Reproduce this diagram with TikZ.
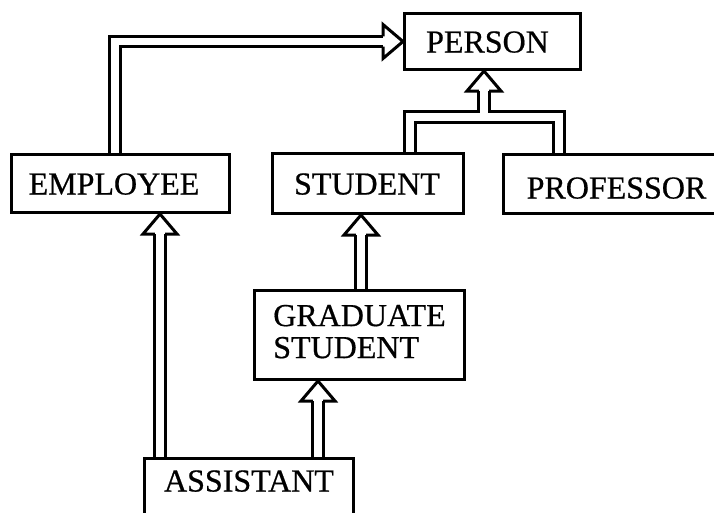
\documentclass[tikz,border=0pt]{standalone}
\usepackage{fontspec}
\setmainfont{Liberation Serif}[FakeBold=0.6]
\usetikzlibrary{calc}
\begin{document}
\begin{tikzpicture}[x=1pt,y=-1pt,
  box/.style={draw, line width=3pt, inner sep=0pt, anchor=north west,
    font=\fontsize{32}{32}\selectfont},
  conn/.style={draw, double, line width=3pt, double distance=7.5pt, line join=miter},
  headline/.style={line width=3pt, line join=miter},
  uphead/.pic={\draw[headline] (-5.2,20) -- (-17,20) -- (0,0) -- (17,20) -- (5.2,20);},
  righthead/.pic={\draw[headline] (-20,-5.2) -- (-20,-17) -- (0,0) -- (-20,17) -- (-20,5.2);}
]
\useasboundingbox (0,0) rectangle (714,512);
\clip (0,0) rectangle (714,512);

\node[box, minimum width=176pt, minimum height=56pt, text height=39pt, text depth=17pt]
  (person) at (403,12) {PERSON\hspace*{10pt}};
\node[box, minimum width=218pt, minimum height=58pt, text height=40pt, text depth=18pt]
  (employee) at (10,153) {EMPLOYEE\hspace*{13pt}};
\node[box, minimum width=191pt, minimum height=60pt, text height=41pt, text depth=19pt]
  (student) at (271,152) {STUDENT\hspace*{2pt}};
\node[box, minimum width=226pt, minimum height=59pt, text height=44pt, text depth=15pt]
  (professor) at (502,153) {PROFESSOR};
\node[box, minimum width=210pt, minimum height=89pt, align=left]
  (grad) at (253,289) {GRADUATE\\STUDENT\rule[-7pt]{0pt}{7pt}};
\node[box, minimum width=209pt, minimum height=73pt, text height=33pt, text depth=40pt]
  (assistant) at (143,457) {ASSISTANT};

\coordinate (xa) at (115,0);
\coordinate (xb) at (160,0);
\coordinate (xc) at (318,0);
\coordinate (xd) at (361,0);
\coordinate (xe) at (410,0);
\coordinate (xf) at (559,0);
\coordinate (j) at (484,117);

% EMPLOYEE -> PERSON
\draw[conn] (xa |- employee.north) |- ($(person.west)+(-20,0)$);
\pic at (person.west) {righthead};
% ASSISTANT -> EMPLOYEE
\draw[conn] (xb |- assistant.north) -- ($(xb |- employee.south)+(0,20)$);
\pic at (xb |- employee.south) {uphead};
% ASSISTANT -> GRADUATE STUDENT
\draw[conn] (xc |- assistant.north) -- ($(xc |- grad.south)+(0,20)$);
\pic at (xc |- grad.south) {uphead};
% GRADUATE STUDENT -> STUDENT
\draw[conn] (xd |- grad.north) -- ($(xd |- student.south)+(0,20)$);
\pic at (xd |- student.south) {uphead};
% STUDENT, PROFESSOR -> PERSON
\draw[conn] (xe |- student.north) |- (j)
            (xf |- professor.north) |- (j)
            (j) -- ($(j |- person.south)+(0,20)$);
\pic at (j |- person.south) {uphead};
\end{tikzpicture}
\end{document}
